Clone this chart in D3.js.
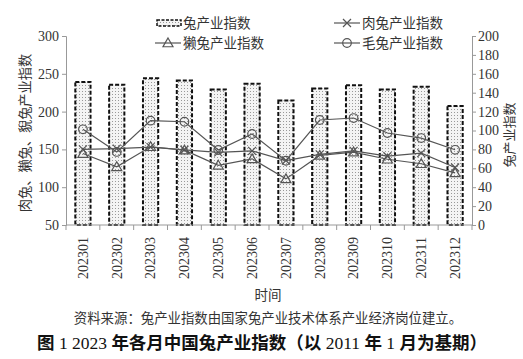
<!DOCTYPE html>
<html><head><meta charset="utf-8">
<script src="https://cdn.jsdelivr.net/npm/d3@7"></script>
<style>
body{margin:0;background:#fff;}
svg{display:block;}
text{font-family:"Liberation Serif","Noto Sans CJK SC",serif;fill:#333;}
</style></head>
<body>
<svg id="c" width="523" height="359"></svg>
<script>
const months = ["202301","202302","202303","202304","202305","202306","202307","202308","202309","202310","202311","202312"];
const rabbitIndex = [151.4,148.4,155.3,152.9,143.5,149.5,131.8,144.5,148,143.5,146.3,125.8];
const meatIndex = [150,151,153,149.5,146,148,135.3,143.5,148,141,145,126];
const rexIndex = [144.5,127,153.5,149,129,137.5,111,142,146.5,137,131,119];
const furIndex = [176.6,146.6,188,186.6,149.2,170.4,135,188.9,191.5,171.7,165,149.5];
const leftTicks = [50,100,150,200,250,300];
const rightTicks = [0,20,40,60,80,100,120,140,160,180,200];

const svg = d3.select("#c");
const defs = svg.append("defs");
const pat = defs.append("pattern").attr("id","dots").attr("width",3).attr("height",3).attr("patternUnits","userSpaceOnUse");
pat.append("rect").attr("width",3).attr("height",3).attr("fill","#f4f4f4");
pat.append("rect").attr("x",1).attr("y",1).attr("width",1).attr("height",1).attr("fill","#999");

const L=66,R=472,T=36,B=225;
const x = d3.scaleBand().domain(months).range([L,R]).paddingInner(0.55).paddingOuter(0.275);
const yL = d3.scaleLinear().domain([50,300]).range([B,T]);
const yR = d3.scaleLinear().domain([0,200]).range([B,T]);
const axisCol="#999";

const gl = svg.append("g").attr("transform",`translate(${L},0)`)
  .call(d3.axisLeft(yL).tickValues(leftTicks).tickSize(4).tickPadding(3));
const gr = svg.append("g").attr("transform",`translate(${R},0)`)
  .call(d3.axisRight(yR).tickValues(rightTicks).tickSize(4).tickPadding(2));
[gl,gr].forEach(g=>{
  g.select(".domain").attr("stroke",axisCol);
  g.selectAll(".tick line").attr("stroke",axisCol);
  g.selectAll(".tick text").attr("font-size",14).attr("fill","#444").attr("font-family","Liberation Serif");
});

svg.append("g").selectAll("rect").data(months).join("rect")
  .attr("x",d=>x(d)).attr("width",x.bandwidth())
  .attr("y",(d,i)=>yR(rabbitIndex[i])).attr("height",(d,i)=>yR(0)-yR(rabbitIndex[i]))
  .attr("fill","url(#dots)").attr("stroke","#111").attr("stroke-width",2).attr("stroke-dasharray","4,2");

const step = x.step();
const xa = svg.append("g");
xa.append("line").attr("x1",L).attr("x2",R).attr("y1",B).attr("y2",B).attr("stroke",axisCol);
xa.selectAll("line.t").data(d3.range(months.length+1)).join("line").attr("class","t")
  .attr("x1",i=>L+i*step).attr("x2",i=>L+i*step).attr("y1",B).attr("y2",B+5).attr("stroke",axisCol);
xa.selectAll("text").data(months).join("text")
  .attr("transform",d=>`translate(${x(d)+x.bandwidth()/2},237) rotate(-90)`)
  .attr("text-anchor","end").attr("dy","0.35em").attr("font-size",14).attr("fill","#444").text(d=>d);

const cx = d=>x(d)+x.bandwidth()/2;
const lineCol="#555";
function drawLine(vals,marker){
  const line = d3.line().x((v,i)=>cx(months[i])).y(v=>yL(v));
  svg.append("path").datum(vals).attr("d",line).attr("fill","none").attr("stroke",lineCol).attr("stroke-width",1.2);
  const g = svg.append("g");
  vals.forEach((v,i)=>drawMarker(g,cx(months[i]),yL(v),marker));
}
function drawMarker(g,px,py,m){
  if(m==="circle"){
    g.append("circle").attr("cx",px).attr("cy",py).attr("r",4.3).attr("fill","none").attr("stroke",lineCol).attr("stroke-width",1.2);
  } else if(m==="tri"){
    const s=5;
    g.append("path").attr("d",`M${px},${py-s}L${px+s},${py+s*0.75}L${px-s},${py+s*0.75}Z`).attr("fill","none").attr("stroke",lineCol).attr("stroke-width",1.2);
  } else {
    const s=4;
    g.append("path").attr("d",`M${px-s},${py-s}L${px+s},${py+s}M${px-s},${py+s}L${px+s},${py-s}`).attr("stroke",lineCol).attr("stroke-width",1.2);
  }
}
drawLine(furIndex,"circle");
drawLine(meatIndex,"x");
drawLine(rexIndex,"tri");

const lg = svg.append("g");
lg.append("rect").attr("x",157).attr("y",20).attr("width",24).attr("height",6)
  .attr("fill","url(#dots)").attr("stroke","#111").attr("stroke-width",1.5).attr("stroke-dasharray","3,1.5");
lg.append("text").attr("x",183).attr("y",23).attr("dy","0.35em").attr("font-size",13.5).text("兔产业指数");
function legLine(x0,y0,m,label){
  lg.append("line").attr("x1",x0).attr("x2",x0+26).attr("y1",y0).attr("y2",y0).attr("stroke",lineCol).attr("stroke-width",1.2);
  drawMarker(lg,x0+13,y0,m);
  lg.append("text").attr("x",x0+28).attr("y",y0).attr("dy","0.35em").attr("font-size",13.5).text(label);
}
legLine(155,43,"tri","獭兔产业指数");
legLine(334,23,"x","肉兔产业指数");
legLine(334,43,"circle","毛兔产业指数");

svg.append("text").attr("transform","translate(25,133) rotate(-90)").attr("text-anchor","middle").attr("dy","0.35em")
  .attr("font-size",13.2).text("肉兔、獭兔、貎兔产业指数");
svg.append("text").attr("transform","translate(509,135) rotate(-90)").attr("text-anchor","middle").attr("dy","0.35em")
  .attr("font-size",13).text("兔产业指数");
svg.append("text").attr("x",268).attr("y",295).attr("text-anchor","middle").attr("dy","0.35em").attr("font-size",13.5).text("时间");
svg.append("text").attr("x",268).attr("y",318).attr("text-anchor","middle").attr("dy","0.35em").attr("font-size",13.4)
  .text("资料来源：兔产业指数由国家兔产业技术体系产业经济岗位建立。");
const title = svg.append("text").attr("x",262).attr("y",343).attr("text-anchor","middle").attr("dy","0.35em")
  .attr("font-size",17.5).attr("fill","#111");
[["图 ",true],["1 2023 ",false],["年各月中国兔产业指数（以 ",true],["2011",false],[" 年 ",true],["1",false],[" 月为基期）",true]]
  .forEach(([t,b])=>title.append("tspan").attr("font-weight",b?"bold":"normal").attr("fill","#111").text(t));
</script>
</body></html>
